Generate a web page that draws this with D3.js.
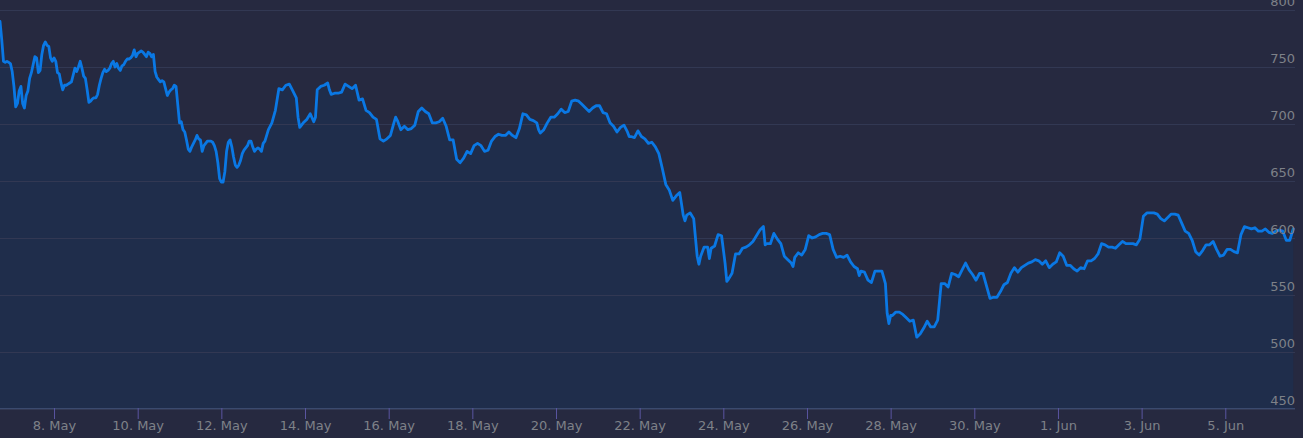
<!DOCTYPE html>
<html><head><meta charset="utf-8">
<script src="https://cdn.jsdelivr.net/npm/d3@7"></script>
<style>html,body{margin:0;padding:0;background:#262940;overflow:hidden}</style>
</head><body><svg id="c" width="1303" height="438"></svg>
<script>
const startTime = "2016-05-06T17:00:00Z";
const endHour = 743;
const hours = [0,1,2,3,4,5,6,7,8,9,10,11,12,13,14,15,16,17,18,19,20,21,22,23,24,25,26,27,28,29,30,31,32,33,34,35,36,37,38,39,40,41,42,43,44,45,46,47,48,49,50,51,52,53,54,55,56,57,58,59,60,61,62,63,64,65,66,67,68,69,70,71,72,73,74,75,76,77,78,79,80,81,82,83,84,85,86,87,88,89,90,91,92,93,94,95,96,97,98,99,100,101,102,103,104,105,106,107,108,109,110,111,112,113,114,115,116,117,118,119,120,121,122,123,124,125,126,127,128,129,130,131,132,133,134,135,136,137,138,139,140,141,142,143,144,145,146,147,148,149,150,151,152,
154,156,158,160,162,164,166,168,170,171,172,174,176,178,180,181,182,184,186,188,189,190,192,194,196,198,200,202,204,206,208,210,212,214,216,218,220,222,224,226,227,228,230,232,234,236,238,240,242,244,246,248,250,252,254,256,258,260,262,264,266,268,270,272,274,276,278,280,282,284,286,288,290,292,294,296,298,300,
302,304,306,308,309,310,312,314,316,318,320,322,324,326,328,330,332,334,336,338,340,342,344,346,348,350,352,354,356,358,360,361,362,364,366,368,370,372,374,376,378,380,382,384,386,388,390,392,393,394,396,398,400,401,402,404,406,407,408,410,412,414,416,417,418,420,422,424,426,428,430,432,434,436,438,439,440,442,444,446,448,450,
452,454,455,456,458,460,462,464,466,468,470,472,474,476,478,480,482,484,486,488,490,492,493,494,496,498,500,502,504,506,508,509,510,511,512,514,516,518,520,522,524,526,528,530,532,534,536,538,540,542,544,546,548,550,552,554,556,558,560,562,564,566,568,570,572,574,576,578,580,582,584,586,588,590,592,594,596,598,
600,602,604,606,608,610,612,614,616,618,620,622,624,626,628,630,632,634,636,638,640,642,644,646,648,650,652,654,656,658,660,662,664,666,668,670,672,674,676,678,680,682,684,686,688,690,692,694,696,698,700,702,704,706,708,710,712,714,716,718,720,722,724,726,728,730,732,734,736,738,740,742];
const prices = [790,774,755,754,755,754,753,746,733,715,718,729,733,718,714,725,729,740,745,752,759,758,745,747,761,769,772,769,768,758,755,758,755,745,744,736,730,734,734,735,736,737,743,749,746,750,755,749,742,740,730,719,720,722,723,723,726,734,740,745,748,746,747,749,753,755,750,753,749,747,751,752,755,757,757,758,760,765,759,762,763,764,763,761,759,763,762,759,761,746,741,739,737,738,737,731,725,728,730,731,734,733,717,701,702,695,693,686,678,676,680,683,686,690,687,686,676,681,683,685,685,685,684,681,676,666,652,649,649,658,676,684,686,680,671,664,662,664,668,674,677,679,681,685,685,680,676,678,679,678,676,683,685,
695,701,712,731,730,734,735,729,723,706,697,701,704,709,702,706,730,733,734,736,730,726,727,727,728,735,733,731,734,721,722,712,710,706,704,687,685,687,690,701,706,703,695,698,695,696,699,711,714,711,709,701,701,702,705,698,686,686,669,666,670,676,674,681,683,681,676,677,685,689,691,690,690,693,690,688,696,709,
708,704,703,701,695,692,695,701,706,706,709,713,710,711,720,721,720,717,714,711,714,716,716,710,709,701,698,693,697,699,693,689,689,688,694,689,687,683,684,680,674,661,647,642,633,637,640,620,615,620,622,617,584,577,584,592,592,582,591,593,603,602,578,562,564,569,586,586,591,592,594,597,602,607,610,594,595,595,604,599,595,584,
581,578,575,583,587,585,590,602,600,601,603,604,604,603,590,583,584,583,585,579,575,573,567,571,570,563,561,571,571,571,560,534,525,532,532,535,535,533,530,527,528,513,516,521,527,522,522,528,560,560,557,569,568,566,572,578,572,568,563,569,569,558,547,548,548,553,559,561,569,574,570,574,576,578,579,581,580,577,
580,574,577,579,587,584,576,576,573,571,574,573,580,580,582,586,595,594,592,592,591,594,597,595,595,595,594,599,619,622,622,622,621,617,615,618,621,621,620,613,606,604,598,588,585,589,594,594,597,590,584,585,590,590,588,587,603,610,609,608,609,606,606,608,605,604,606,607,606,598,598,608];
const yTicks = [450,500,550,600,650,700,750,800];
const xTickDates = ["2016-05-08","2016-05-10","2016-05-12","2016-05-14","2016-05-16","2016-05-18","2016-05-20","2016-05-22","2016-05-24","2016-05-26","2016-05-28","2016-05-30","2016-06-01","2016-06-03","2016-06-05"];

const HOUR = 3600e3;
const t0 = Date.parse(startTime);
const svg = d3.select("#c");
const plotW = 1295;
const x = d3.scaleUtc().domain([new Date(t0), new Date(t0 + endHour*HOUR)]).range([0, plotW]);
const y = d3.scaleLinear().domain([450, 800]).range([409, 10]);
const data = hours.map((h,i)=>({t:new Date(t0 + h*HOUR), v:prices[i]}));

svg.append("rect").attr("width",1303).attr("height",438).attr("fill","#262940");

// area
svg.append("path").datum(data)
  .attr("d", d3.area().x(d=>x(d.t)).y0(y(450)).y1(d=>y(d.v)))
  .attr("fill","#1f2d4b");

// gridlines
svg.append("g").selectAll("line").data(yTicks).join("line")
  .attr("x1",0).attr("x2",plotW)
  .attr("y1",d=>Math.round(y(d))+0.5).attr("y2",d=>Math.round(y(d))+0.5)
  .attr("stroke","#323853").attr("stroke-width",1);

// line
svg.append("path").datum(data)
  .attr("d", d3.line().x(d=>x(d.t)).y(d=>y(d.v)))
  .attr("fill","none").attr("stroke","#0a78e4").attr("stroke-width",2.8)
  .attr("stroke-linejoin","round").attr("stroke-linecap","round");

// y labels
svg.append("g").selectAll("text").data(yTicks).join("text")
  .attr("x",plotW).attr("y",d=>y(d)-4)
  .attr("text-anchor","end")
  .attr("font-family","DejaVu Sans, sans-serif").attr("font-size",13)
  .attr("fill","#7e8188")
  .text(d=>d);

// x axis
const xAxis = d3.axisBottom(x)
  .tickValues(xTickDates.map(s=>new Date(s+"T00:00:00Z")))
  .tickFormat(d3.utcFormat("%-d. %b"))
  .tickSizeInner(11).tickSizeOuter(0).tickPadding(2);
const gx = svg.append("g").attr("transform","translate(0,408)").call(xAxis);
gx.select(".domain").attr("stroke","#3b4a6e").attr("d","M0,0.5H"+plotW);
gx.selectAll(".tick line").attr("stroke","#5a55a0");
gx.selectAll(".tick text").attr("fill","#7e8188")
  .attr("font-family","DejaVu Sans, sans-serif").attr("font-size",13);
</script></body></html>
